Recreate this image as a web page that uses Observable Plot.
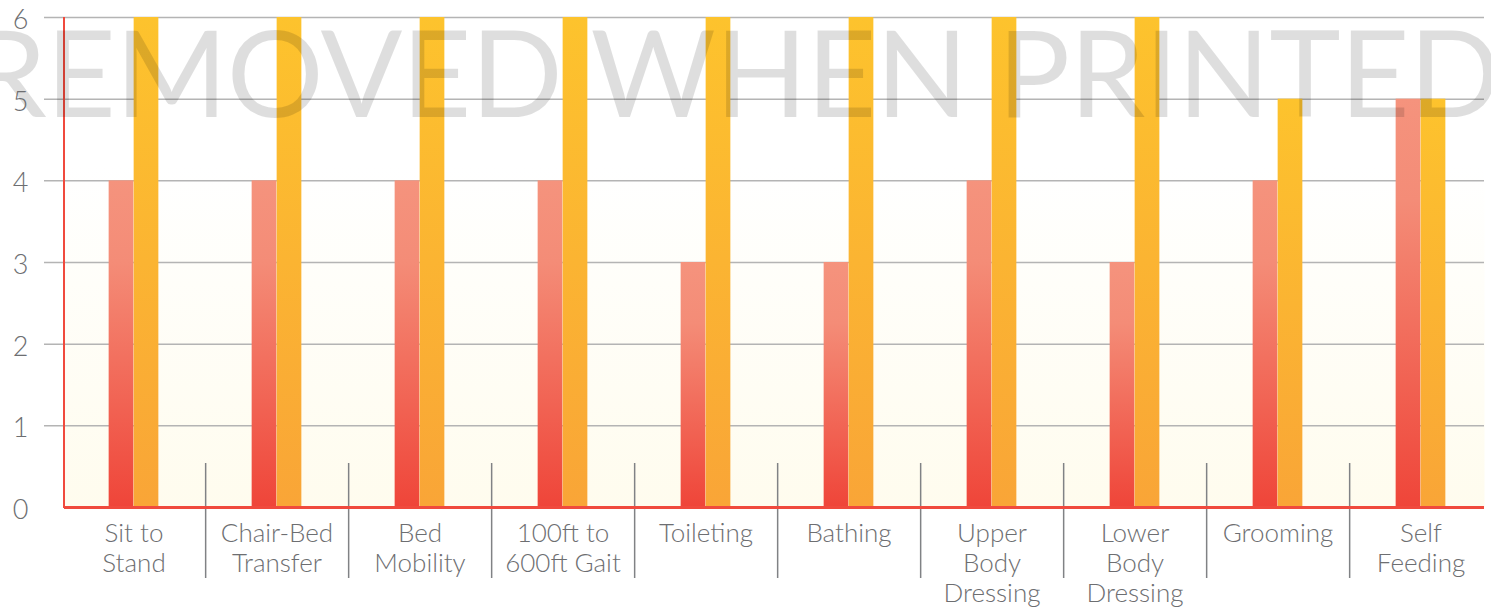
<!DOCTYPE html>
<html><head><meta charset="utf-8">
<script src="https://cdn.jsdelivr.net/npm/d3@7"></script>
<script src="https://cdn.jsdelivr.net/npm/@observablehq/plot@0.6"></script>
<style>body{margin:0;background:#fff;overflow:hidden}</style>
</head><body><div id="chart"></div>
<script>
const categories = ["Sit to Stand","Chair-Bed Transfer","Bed Mobility","100ft to 600ft Gait","Toileting","Bathing","Upper Body Dressing","Lower Body Dressing","Grooming","Self Feeding"];
const labels = ["Sit to\nStand","Chair-Bed\nTransfer","Bed\nMobility","100ft to\n600ft Gait","Toileting","Bathing","Upper\nBody\nDressing","Lower\nBody\nDressing","Grooming","Self\nFeeding"];
const seriesA = [4,4,4,4,3,3,4,3,4,5];
const seriesB = [6,6,6,6,6,6,6,6,5,5];
const yTicks = [0,1,2,3,4,5,6];
const watermark = "REMOVED WHEN PRINTED";

const W = 1491, H = 607;
const xRange = [60.5, 1493.5];
const step = (xRange[1] - xRange[0]) / categories.length;
const barW = 25;
const data = categories.map((c, i) => ({category: c, label: labels[i], a: seriesA[i], b: seriesB[i]}));
const grey = "#6d6e71";
const red = "#F04A3D";

function defs() {
  const d = d3.create("svg:defs");
  const g1 = d.append("linearGradient").attr("id", "gradA").attr("x1", 0).attr("y1", 0).attr("x2", 0).attr("y2", 1);
  g1.append("stop").attr("offset", "0").attr("stop-color", "#F5937D");
  g1.append("stop").attr("offset", "0.25").attr("stop-color", "#F48C77");
  g1.append("stop").attr("offset", "1").attr("stop-color", "#EF4539");
  const g2 = d.append("linearGradient").attr("id", "gradB").attr("x1", 0).attr("y1", 0).attr("x2", 0).attr("y2", 1);
  g2.append("stop").attr("offset", "0").attr("stop-color", "#FDC32D");
  g2.append("stop").attr("offset", "1").attr("stop-color", "#F9A537");
  const g3 = d.append("linearGradient").attr("id", "bg").attr("x1", 0).attr("y1", 0).attr("x2", 0).attr("y2", 1);
  g3.append("stop").attr("offset", "0").attr("stop-color", "#ffffff");
  g3.append("stop").attr("offset", "0.3").attr("stop-color", "#ffffff");
  g3.append("stop").attr("offset", "1").attr("stop-color", "#FFFCEE");
  return d.node();
}

function leftAxisLine(index, scales, values, dims) {
  return d3.create("svg:line")
    .attr("x1", dims.marginLeft).attr("x2", dims.marginLeft)
    .attr("y1", dims.marginTop).attr("y2", dims.height - dims.marginBottom + 1)
    .attr("stroke", red).attr("stroke-width", 2).node();
}

function watermarkMark(index, scales, values, dims) {
  return d3.create("svg:text")
    .attr("x", 736).attr("y", 117)
    .attr("text-anchor", "middle")
    .attr("font-size", 121)
    .attr("font-family", "Lato")
    .attr("font-weight", 400)
    .attr("fill", "#000").attr("fill-opacity", 0.13)
    .attr("textLength", 1530).attr("lengthAdjust", "spacing")
    .text(watermark).node();
}

const chart = Plot.plot({
  width: W, height: H,
  marginTop: 17, marginBottom: 100, marginLeft: 64, marginRight: 7,
  style: {fontFamily: "Lato", background: "#fff", overflow: "visible"},
  x: {domain: categories, range: xRange, padding: 0, axis: null},
  y: {domain: [0, 6], axis: null},
  marks: [
    defs,
    Plot.frame({fill: "url(#bg)", stroke: null}),
    Plot.ruleY(yTicks.filter(d => d > 0), {stroke: "#b4b4b4", strokeWidth: 1.5, insetLeft: -20}),
    Plot.barY(data, {x: "category", y: "a", fill: "url(#gradA)", insetLeft: step / 2 - barW, insetRight: step / 2}),
    Plot.barY(data, {x: "category", y: "b", fill: "url(#gradB)", insetLeft: step / 2, insetRight: step / 2 - barW}),
    Plot.ruleX(categories.slice(0, -1), {dx: step / 2, stroke: "#808285", strokeWidth: 1.5, insetTop: 446, insetBottom: -71}),
    Plot.ruleY([0], {stroke: red, strokeWidth: 3}),
    leftAxisLine,
    watermarkMark,
    Plot.text(data, {x: "category", text: "label", frameAnchor: "bottom", lineAnchor: "top", dy: 13, fontSize: 26, lineHeight: 1.15, fill: grey, fontWeight: 300}),
    Plot.axisY(yTicks, {tickSize: 0, tickPadding: 36, fontSize: 27, fill: grey, fontWeight: 300, label: null, dy: 3, tickFormat: d3.format("d")})
  ]
});
document.getElementById("chart").appendChild(chart);
</script>
</body></html>
